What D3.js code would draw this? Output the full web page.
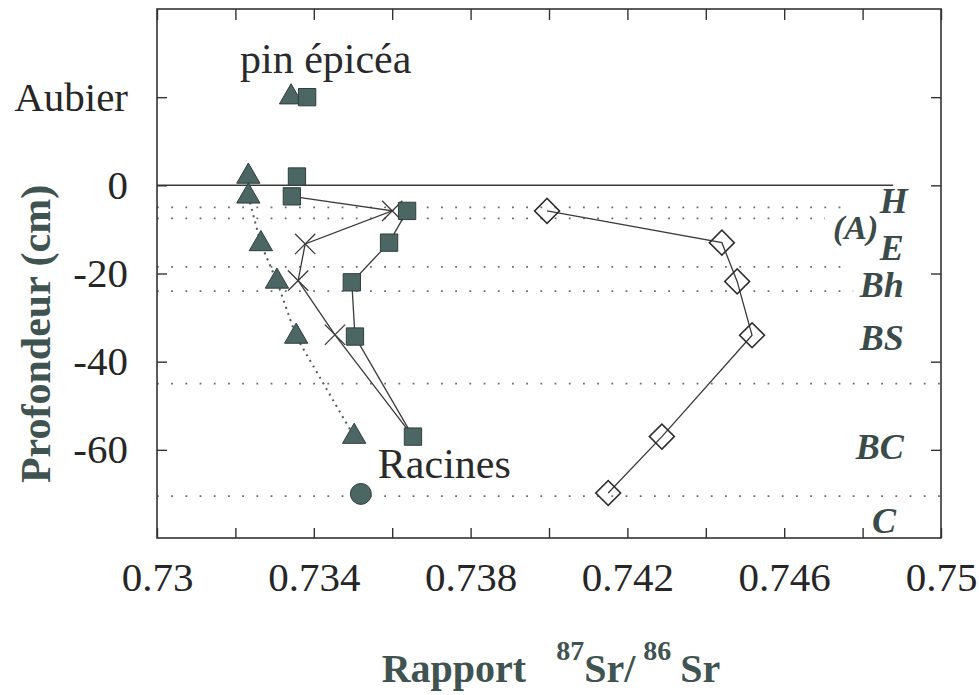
<!DOCTYPE html>
<html><head><meta charset="utf-8">
<script src="https://cdn.jsdelivr.net/npm/d3@7"></script>
<style>body{margin:0;background:#fff}svg{display:block}
text{font-family:"Liberation Serif","Tinos","Times New Roman",serif}</style>
</head><body>
<svg id="c" width="979" height="695"></svg>
<script>
// ---------- data ----------
const xTickValues = [0.73,0.732,0.734,0.736,0.738,0.74,0.742,0.744,0.746,0.748,0.75];
const xTickLabels = ["0.73","","0.734","","0.738","","0.742","","0.746","","0.75"];
const yTickValues = [20,0,-20,-40,-60];
const yTickLabels = ["Aubier","0","-20","-40","-60"];

// Sapwood (Aubier)
const aubierDepth = 20;
const pinAubierRatio = 0.73342;
const epiceaAubierRatio = 0.73383;

// pin (triangles)
const pinDepth = [2, -2.5, -13.3, -21.8, -34.3, -57];
const pinRatio = [0.73233, 0.73233, 0.73265, 0.73306, 0.73355, 0.73503];

// épicéa (squares)
const epiceaDepth = [2, -2.5, -5.8, -13, -22, -34.3, -57];
const epiceaRatio = [0.73357, 0.73344, 0.73638, 0.73592, 0.73497, 0.73505, 0.73653];

// crosses
const crossDepth = [-5.8, -13.3, -21.6, -33.9];
const crossRatio = [0.73600, 0.73378, 0.73360, 0.73454];

// open diamonds
const diamondDepth = [-5.8, -13, -21.8, -34, -57, -69.8];
const diamondRatio = [0.73995, 0.74441, 0.74480, 0.74518, 0.74288, 0.74151];

// roots (Racines)
const racinesDepth = -70;
const racinesRatio = 0.73520;

// soil horizon boundaries (depth, ratio where the dotted line stops)
const boundaryDepth = [-5, -7.5, -18.5, -24, -45, -70.5];
const boundaryEnd = [0.74773, 0.74704, 0.74750, 0.74776, 0.75, 0.75];
const zeroLineEnd = 0.74878;

// horizon names
const horizonNames = ["H", "(A)", "E", "Bh", "BS", "BC", "C"];
const horizonLabelDepth = [-3.5, -9.5, -14, -22.5, -34.5, -59.2, -76];
const horizonLabelRatio = [0.74915, 0.74840, 0.74905, 0.74905, 0.74905, 0.74905, 0.74885];

// ---------- chart ----------
const L = 157, R = 941, T = 9, B = 538;
const svg = d3.select("#c");
const x = d3.scaleLinear().domain([0.73, 0.75]).range([L, R]);
const y = d3.scaleLinear().domain([-80, 40]).range([B, T]);

const serif = '"Liberation Serif","Tinos","Times New Roman",serif';
const titleCol = "#3f5351";
const markFill = "#4c6664", markStroke = "#2f3f3e";

// dotted horizon boundaries
svg.append("g").selectAll("line").data(boundaryDepth).join("line")
  .attr("x1", L).attr("x2", (d,i) => x(boundaryEnd[i]))
  .attr("y1", d => y(d)).attr("y2", d => y(d))
  .attr("stroke", "#6a6a6a").attr("stroke-width", 1.8)
  .attr("stroke-dasharray", "1.8 12.4");

// zero (soil surface) line
svg.append("line").attr("x1", L).attr("x2", x(zeroLineEnd))
  .attr("y1", y(0)).attr("y2", y(0)).attr("stroke", "#3a3a3a").attr("stroke-width", 1.5);

// axes
const fmtX = d => xTickLabels[xTickValues.indexOf(d)];
const fmtY = d => yTickLabels[yTickValues.indexOf(d)];
const gB = svg.append("g").attr("transform", `translate(0,${B})`)
  .call(d3.axisBottom(x).tickValues(xTickValues).tickFormat(fmtX).tickSize(-10).tickPadding(24));
const gT = svg.append("g").attr("transform", `translate(0,${T})`)
  .call(d3.axisTop(x).tickValues(xTickValues).tickFormat("").tickSize(-11));
const gL = svg.append("g").attr("transform", `translate(${L},0)`)
  .call(d3.axisLeft(y).tickValues(yTickValues).tickFormat(fmtY).tickSize(-10).tickPadding(29));
const gR = svg.append("g").attr("transform", `translate(${R},0)`)
  .call(d3.axisRight(y).tickValues(yTickValues).tickFormat("").tickSize(-10));
[gB, gT, gL, gR].forEach(g => {
  g.attr("font-family", null).attr("font-size", null);
  g.select(".domain").remove();
  g.selectAll(".tick line").attr("stroke", "#333").attr("stroke-width", 1.4);
  g.selectAll("text").style("font-family", serif).attr("font-size", 41).attr("fill", "#262626");
});

// frame
svg.append("rect").attr("x", L).attr("y", T).attr("width", R - L).attr("height", B - T)
  .attr("fill", "none").attr("stroke", "#333").attr("stroke-width", 1.6);

// lines
const line = d3.line().x(d => x(d[0])).y(d => y(d[1]));
const thinCol = "#3a3a3a", thinW = 1.3;

// pin dotted line (soil points)
svg.append("path").datum(pinRatio.slice(1).map((r,i) => [r, pinDepth[i+1]]))
  .attr("d", line).attr("fill", "none").attr("stroke", "#555").attr("stroke-width", 2)
  .attr("stroke-dasharray", "2 4.5");

// épicéa line
svg.append("path").datum(epiceaRatio.slice(2).map((r,i) => [r, epiceaDepth[i+2]]))
  .attr("d", line).attr("fill", "none").attr("stroke", thinCol).attr("stroke-width", thinW);

// cross line: from épicéa -2.5 point through crosses to épicéa -57 point
const crossPath = [[epiceaRatio[1], epiceaDepth[1]]]
  .concat(crossRatio.map((r,i) => [r, crossDepth[i]]))
  .concat([[epiceaRatio[6], epiceaDepth[6]]]);
svg.append("path").datum(crossPath).attr("d", line).attr("fill", "none")
  .attr("stroke", thinCol).attr("stroke-width", thinW);

// diamond line
svg.append("path").datum(diamondRatio.map((r,i) => [r, diamondDepth[i]]))
  .attr("d", line).attr("fill", "none").attr("stroke", thinCol).attr("stroke-width", thinW);

// markers
const tri = d3.symbol(d3.symbolTriangle, 235)();
const sq = d3.symbol(d3.symbolSquare, 300)();
const dia = d3.symbol(d3.symbolSquare, 310)();
const circ = d3.symbol(d3.symbolCircle, 345)();
const cross = d3.symbol(d3.symbolTimes, 270)();

svg.append("g").selectAll("path").data(crossRatio).join("path")
  .attr("d", cross).attr("transform", (d,i) => `translate(${x(d)},${y(crossDepth[i])})`)
  .attr("fill", "none").attr("stroke", "#3a3a3a").attr("stroke-width", 1.3);

svg.append("g").selectAll("path").data(diamondRatio).join("path")
  .attr("d", dia).attr("transform", (d,i) => `translate(${x(d)},${y(diamondDepth[i])}) rotate(45)`)
  .attr("fill", "none").attr("stroke", "#2e2e2e").attr("stroke-width", 1.6);

svg.append("g").selectAll("path").data(pinRatio).join("path")
  .attr("d", tri).attr("transform", (d,i) => `translate(${x(d)},${y(pinDepth[i])})`)
  .attr("fill", markFill).attr("stroke", markStroke).attr("stroke-width", 1);

svg.append("g").selectAll("path").data(epiceaRatio).join("path")
  .attr("d", sq).attr("transform", (d,i) => `translate(${x(d)},${y(epiceaDepth[i])})`)
  .attr("fill", markFill).attr("stroke", markStroke).attr("stroke-width", 1);

svg.append("path").attr("d", tri)
  .attr("transform", `translate(${x(pinAubierRatio)},${y(aubierDepth)})`)
  .attr("fill", markFill).attr("stroke", markStroke).attr("stroke-width", 1);
svg.append("path").attr("d", sq)
  .attr("transform", `translate(${x(epiceaAubierRatio)},${y(aubierDepth)})`)
  .attr("fill", markFill).attr("stroke", markStroke).attr("stroke-width", 1);

svg.append("path").attr("d", circ)
  .attr("transform", `translate(${x(racinesRatio)},${y(racinesDepth)})`)
  .attr("fill", markFill).attr("stroke", markStroke).attr("stroke-width", 1);

// annotations
svg.append("text").attr("x", 240).attr("y", 73).text("pin épicéa")
  .style("font-family", serif).attr("font-size", 42).attr("fill", "#2a2a2a");
svg.append("text").attr("x", x(racinesRatio) + 17).attr("y", 478).text("Racines")
  .style("font-family", serif).attr("font-size", 42).attr("fill", "#2a2a2a");

// horizon labels
svg.append("g").selectAll("text").data(horizonNames).join("text")
  .attr("x", (d,i) => x(horizonLabelRatio[i]))
  .attr("y", (d,i) => y(horizonLabelDepth[i]))
  .attr("dy", "0.35em").attr("text-anchor", "end")
  .style("font-family", serif).attr("font-style", "italic").attr("font-weight", "bold")
  .attr("font-size", (d) => d === "(A)" ? 34 : 36).attr("fill", "#3a4b4a")
  .text(d => d);

// axis titles
const xt = svg.append("text").attr("x", 551).attr("y", 682).attr("text-anchor", "middle")
  .style("font-family", serif).attr("font-weight", "bold").attr("font-size", 40).attr("fill", titleCol);
xt.append("tspan").text("Rapport");
xt.append("tspan").attr("dx", 30).attr("dy", -22).attr("font-size", 28).text("87");
xt.append("tspan").attr("dy", 22).text("Sr/");
xt.append("tspan").attr("dx", 8).attr("dy", -22).attr("font-size", 28).text("86");
xt.append("tspan").attr("dx", 9).attr("dy", 22).text("Sr");

svg.append("text").attr("transform", "translate(50,334) rotate(-90)")
  .attr("text-anchor", "middle").style("font-family", serif).attr("font-weight", "bold")
  .attr("font-size", 42).attr("fill", titleCol).text("Profondeur (cm)");
</script>
</body></html>
